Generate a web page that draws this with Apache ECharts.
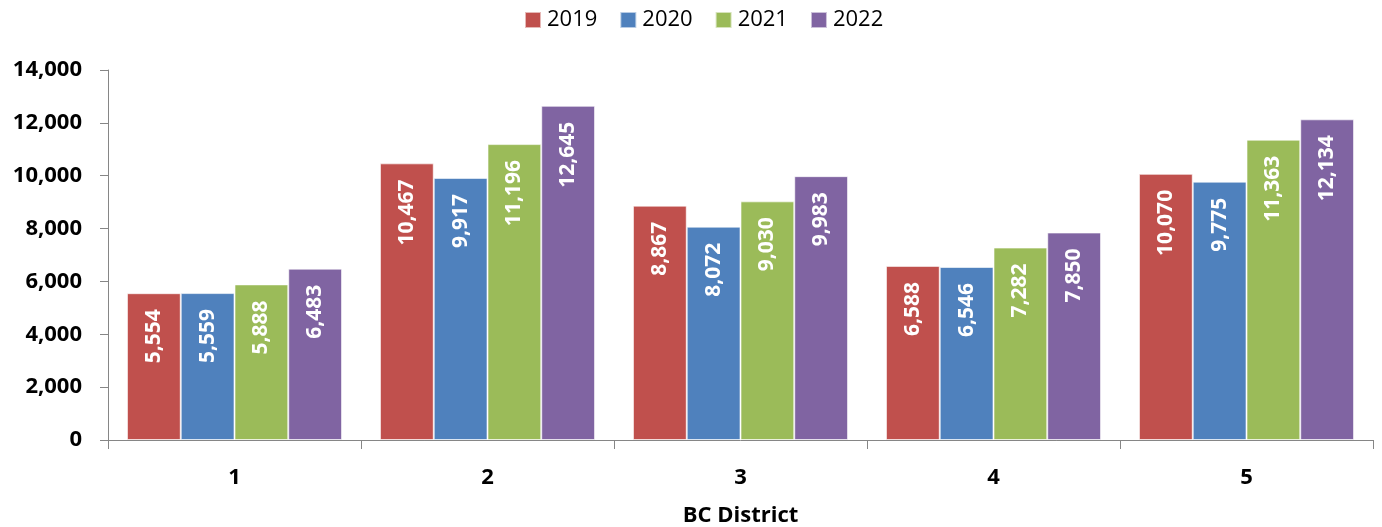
<!DOCTYPE html>
<html><head><meta charset="utf-8">
<script src="https://cdn.jsdelivr.net/npm/echarts@6/dist/echarts.min.js"></script>
<style>html,body{margin:0;padding:0;background:#fff}#c{width:1382px;height:527px}</style>
</head><body><div id="c"></div>
<script>
const categories = ['1','2','3','4','5'];
const seriesNames = ['2019','2020','2021','2022'];
const v2019 = [5554, 10467, 8867, 6588, 10070];
const v2020 = [5559, 9917, 8072, 6546, 9775];
const v2021 = [5888, 11196, 9030, 7282, 11363];
const v2022 = [6483, 12645, 9983, 7850, 12134];
const colors = ['#C0504D','#4F81BD','#9BBB59','#8064A2'];
const font = '"Open Sans", "Noto Sans", sans-serif';
const fmt = v => v.toLocaleString('en-US');
const chart = echarts.init(document.getElementById('c'));
const allVals = [v2019, v2020, v2021, v2022];
chart.setOption({
  animation: false,
  legend: {
    top: 4, left: 519, itemWidth: 16, itemHeight: 16, itemGap: 22,
    textStyle: {fontFamily: font, fontSize: 22, color: '#000', padding: [0,0,0,1]},
    icon: 'rect'
  },
  grid: {left: 108, right: 9, top: 70, bottom: 87, containLabel: false, outerBoundsMode: 'none'},
  xAxis: {
    type: 'category', data: categories,
    name: 'BC District', nameLocation: 'middle', nameGap: 65,
    nameTextStyle: {fontFamily: font, fontSize: 22, fontWeight: 'bold', color: '#000'},
    axisLine: {lineStyle: {color: '#868686', width: 1}},
    axisTick: {show: true, length: 9, lineStyle: {color: '#868686'}},
    axisLabel: {fontFamily: font, fontSize: 22, fontWeight: 'bold', color: '#000', margin: 27}
  },
  yAxis: {
    type: 'value', min: 0, max: 14000, interval: 2000,
    axisLine: {show: true, lineStyle: {color: '#868686'}},
    axisTick: {show: true, length: 8, lineStyle: {color: '#868686'}},
    splitLine: {show: false},
    axisLabel: {fontFamily: font, fontSize: 22, fontWeight: 'bold', color: '#000', margin: 26,
      formatter: v => fmt(v)}
  },
  series: seriesNames.map((n, i) => ({
    name: n, type: 'bar', data: allVals[i],
    barGap: '0%', barCategoryGap: '15%',
    itemStyle: {color: colors[i], borderColor: 'rgba(255,255,255,0.6)', borderWidth: 1},
    label: {
      show: true, position: 'insideTop', rotate: 90, align: 'right', verticalAlign: 'middle',
      distance: 16,
      fontFamily: font, fontSize: 21, fontWeight: 'bold', color: '#fff',
      formatter: p => fmt(p.value)
    }
  }))
});
</script></body></html>
